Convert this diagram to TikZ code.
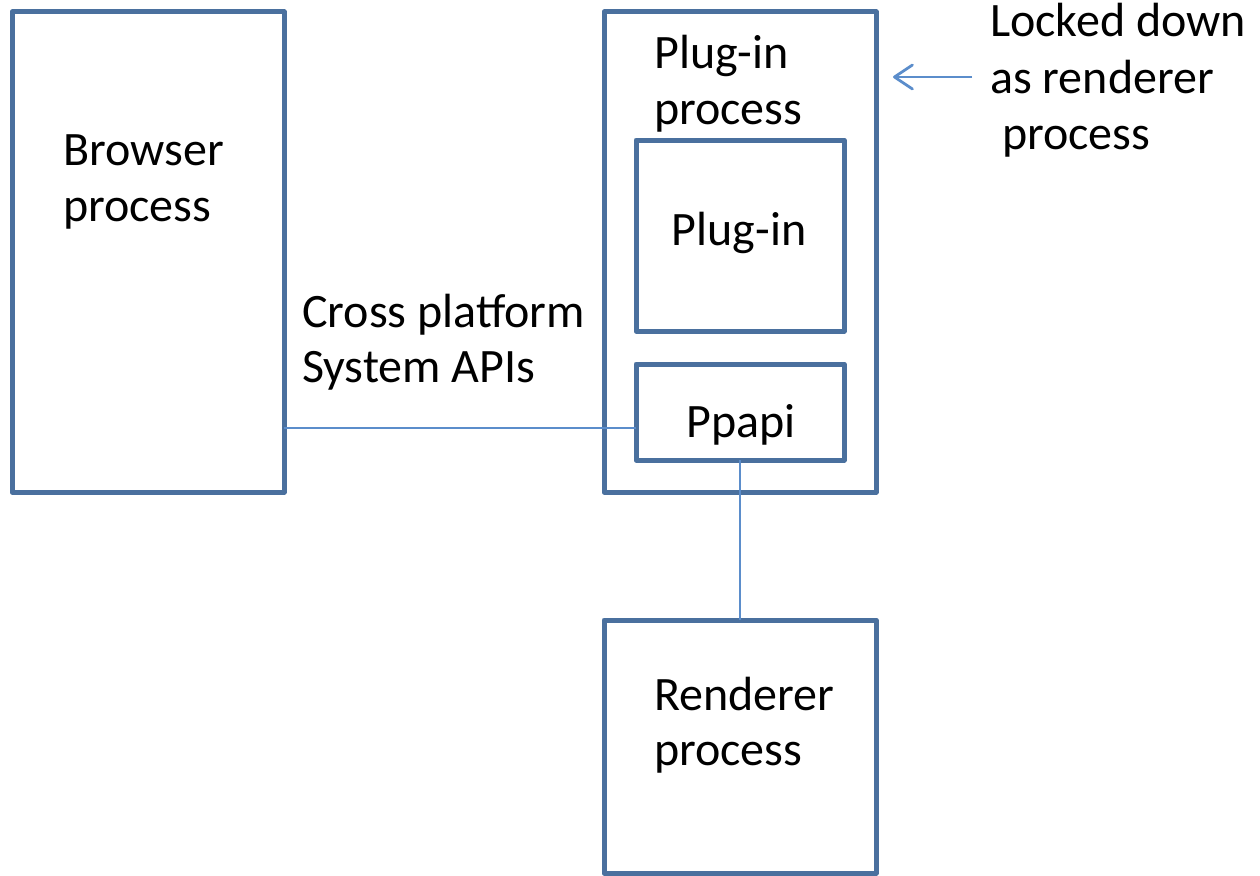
\documentclass[tikz,border=0pt]{standalone}
\usepackage{fontspec}
\setmainfont{Carlito}
\usetikzlibrary{arrows.meta}
\definecolor{boxblue}{HTML}{4A709E}
\definecolor{linkblue}{HTML}{5B8DCB}
\begin{document}
\begin{tikzpicture}[x=1pt,y=-1pt,
  procbox/.style={draw=boxblue, line width=5pt, line join=round,
    inner sep=0pt, outer sep=0pt, anchor=north west},
  link/.style={draw=linkblue, line width=1.6pt},
  lbl/.style={anchor=base west, inner sep=0pt, font=\fontsize{48}{56}\selectfont},
  clbl/.style={lbl, anchor=base}]
\useasboundingbox (0,0) rectangle (1260,875);

% process boxes
\node[procbox, minimum width=272pt, minimum height=480pt] (browser)  at (12,12)   {};
\node[procbox, minimum width=272pt, minimum height=480pt] (plugproc) at (604,12)  {};
\node[procbox, minimum width=208pt, minimum height=191pt] (plugin)   at (636,140) {};
\node[procbox, minimum width=208pt, minimum height=96pt]  (ppapi)    at (636,364) {};
\node[procbox, minimum width=272pt, minimum height=253pt] (renderer) at (604,620) {};

% labels
\node[lbl] (browserA) at (63,165) {Browser};
\node[lbl] (browserB) at (63,221) {process};
\node[lbl] (apiA) at (302,327) {Cross platform};
\node[lbl] (apiB) at (302,382) {System APIs};
\node[lbl] (plugprocA) at (654,68)  {Plug-in};
\node[lbl] (plugprocB) at (654,124) {process};
\node[clbl] (pluginL) at (739,245) {Plug-in};
\node[clbl] (ppapiL)  at (741,437) {Ppapi};
\node[lbl] (rendA) at (654,710) {Renderer};
\node[lbl] (rendB) at (654,765) {process};
\node[lbl] (lockA) at (990,37)  {Locked down};
\node[lbl] (lockB) at (990,93)  {as renderer};
\node[lbl] (lockC) at (1002,149) {process};

% connectors
\coordinate (apiY) at (0,428);
\draw[link] (browser.east |- apiY) -- (ppapi.west |- apiY);
\draw[link] (ppapi.south) -- (renderer.north);

\coordinate (lockTail) at (972,77);
\coordinate (lockTip)  at (893,77);
\draw[link, -{Straight Barb[length=18pt, width=24pt, line width=2.8pt, round]}]
  (lockTail) -- (lockTip);
\end{tikzpicture}
\end{document}
